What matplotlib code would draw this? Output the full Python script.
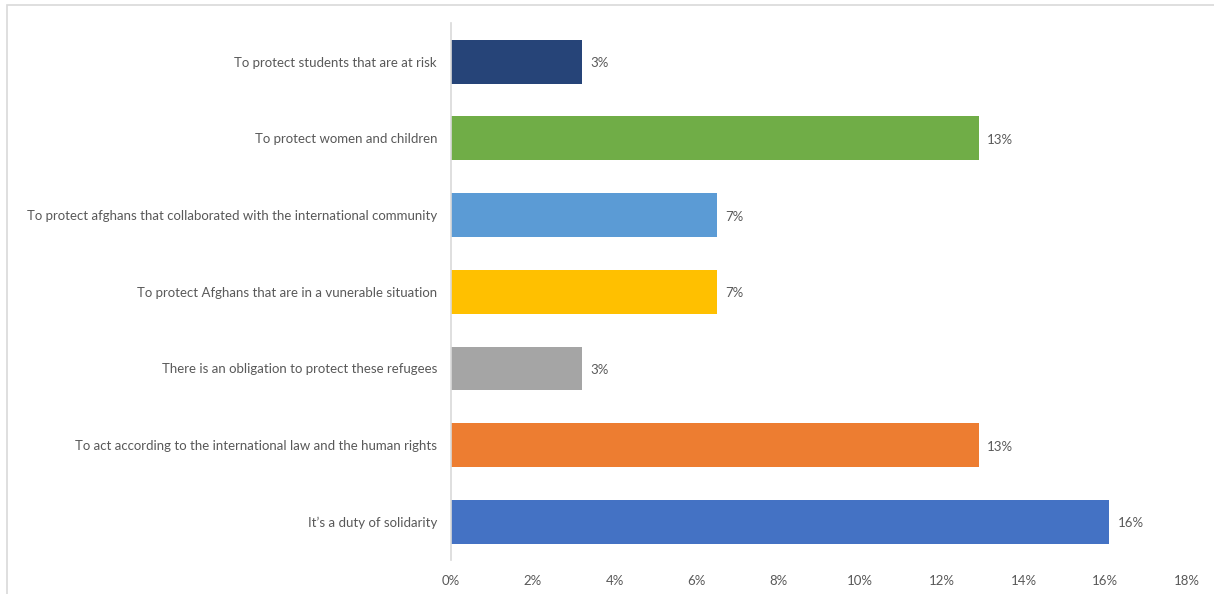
import matplotlib.pyplot as plt
from matplotlib.patches import Rectangle

# Datos (de abajo hacia arriba)
categorias = [
    "It\u2019s a duty of solidarity",
    "To act according to the international law and the human rights",
    "There is an obligation to protect these refugees",
    "To protect Afghans that are in a vunerable situation",
    "To protect afghans that collaborated with the international community",
    "To protect women and children",
    "To protect students that are at risk",
]
valores = [16.1, 12.9, 3.2, 6.5, 6.5, 12.9, 3.2]
etiquetas = ["16%", "13%", "3%", "7%", "7%", "13%", "3%"]
colores = ["#4472C4", "#ED7D31", "#A5A5A5", "#FFC000", "#5B9BD5", "#70AD47", "#264478"]
ticks_x = [0, 2, 4, 6, 8, 10, 12, 14, 16, 18]

plt.rcParams['font.family'] = ['Lato', 'DejaVu Sans']
gris = "#595959"

fig = plt.figure(figsize=(12.14, 5.94), dpi=100)
ax = fig.add_axes([0.3715, 0.0572, 0.6063, 0.9035])

# Marco exterior del gráfico
fig.patches.append(Rectangle((7 / 1214, -0.1), 1.2, 1 - 5 / 594 + 0.1,
                             transform=fig.transFigure, fill=False,
                             edgecolor="#D9D9D9", linewidth=1.2))

y = range(len(categorias))
ax.barh(y, valores, height=0.57, color=colores)
for i, (v, e) in enumerate(zip(valores, etiquetas)):
    ax.text(v + 0.2, i - 0.02, e, va='center', ha='left', fontsize=9.5, color=gris)

ax.set_xlim(0, 18)
ax.set_ylim(-0.5, len(categorias) - 0.5)
ax.set_yticks(list(y))
ax.set_yticklabels(categorias, fontsize=9.5, color=gris)
ax.set_xticks(ticks_x)
ax.set_xticklabels([f"{t}%" for t in ticks_x], fontsize=9.5, color=gris)
ax.tick_params(axis='both', length=0)
ax.tick_params(axis='y', pad=10)
ax.tick_params(axis='x', pad=11)
for s in ['top', 'right', 'bottom']:
    ax.spines[s].set_visible(False)
ax.spines['left'].set_color("#D9D9D9")
ax.spines['left'].set_linewidth(1.2)

fig.savefig("out.png", dpi=100)
